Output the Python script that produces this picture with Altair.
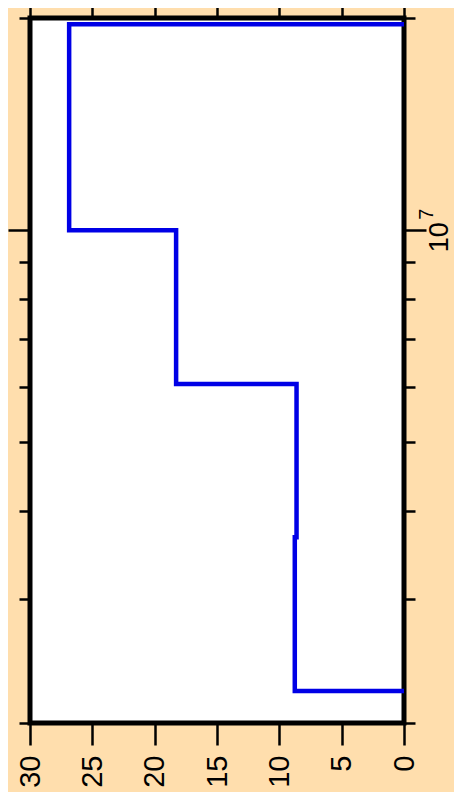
import altair as alt
import pandas as pd

# Data (rotated histogram outline)
edges = [2.22e6, 3.67e6, 6.05e6, 1.0e7, 1.96e7]     # bin boundaries (log axis)
counts = [8.76, 8.62, 18.28, 26.86]                # bin heights (linear axis, 0..30)
x_ticks = [0, 5, 10, 15, 20, 25, 30]
minor_ticks = [2e6, 3e6, 4e6, 5e6, 6e6, 7e6, 8e6, 9e6, 2e7]
major_ticks = [1e7]
major_label = ["10"]
major_exp = ["7"]

# build the step outline from the bins
rows = [dict(v=0.0, e=edges[0], o=0)]
for i, c in enumerate(counts):
    rows.append(dict(v=c, e=edges[i], o=len(rows)))
    rows.append(dict(v=c, e=edges[i + 1], o=len(rows)))
rows.append(dict(v=0.0, e=edges[-1], o=len(rows)))
df = pd.DataFrame(rows)
lab = pd.DataFrame({"e": major_ticks, "t": major_label, "s": major_exp})

FONT = "Liberation Sans"
xscale = alt.Scale(domain=[0, 30], reverse=True, nice=False, zero=False)
yscale = alt.Scale(type="log", domain=[2e6, 2e7], nice=False)

def xax(orient, size, labels):
    kw = dict(orient=orient, values=x_ticks, tickSize=size, tickWidth=2.5,
              tickColor="black", domain=False, grid=False, title=None,
              labels=labels)
    if labels:
        kw.update(labelAngle=270, labelFontSize=29, labelFont=FONT,
                  labelColor="black", labelAlign="right", labelBaseline="middle",
                  labelPadding=10)
    return alt.Axis(**kw)

def yax(orient, vals, size):
    return alt.Axis(orient=orient, values=vals, tickSize=size, tickWidth=2.5,
                    tickColor="black", domain=False, grid=False, title=None,
                    labels=False)

base = alt.Chart(df)

l1 = base.mark_line(color="#0000e6", strokeWidth=4.5).encode(
    x=alt.X("v:Q", scale=xscale, axis=xax("bottom", 22, True)),
    y=alt.Y("e:Q", scale=yscale, axis=yax("left", minor_ticks, 11)),
    order="o:Q",
)
l2 = base.mark_line(opacity=0).encode(
    x=alt.X("v:Q", scale=xscale, axis=xax("top", 18, False)),
    y=alt.Y("e:Q", scale=yscale, axis=yax("left", major_ticks, 22)),
    order="o:Q",
)
l3 = base.mark_line(opacity=0).encode(
    x=alt.X("v:Q", scale=xscale, axis=None),
    y=alt.Y("e:Q", scale=yscale, axis=yax("right", minor_ticks, 11)),
    order="o:Q",
)
l4 = base.mark_line(opacity=0).encode(
    x=alt.X("v:Q", scale=xscale, axis=None),
    y=alt.Y("e:Q", scale=yscale, axis=yax("right", major_ticks, 22)),
    order="o:Q",
)
t1 = alt.Chart(lab).mark_text(angle=270, align="center", baseline="alphabetic",
                              fontSize=27, font=FONT, color="black", dx=-7).encode(
    x=alt.value(418),
    y=alt.Y("e:Q", scale=yscale, axis=None),
    text="t:N",
)
t2 = alt.Chart(lab).mark_text(angle=270, align="center", baseline="alphabetic",
                              fontSize=20, font=FONT, color="black", dx=16).encode(
    x=alt.value(403),
    y=alt.Y("e:Q", scale=yscale, axis=None),
    text="s:N",
)

chart = alt.layer(l1, l2, l3, l4, t1, t2).resolve_axis(
    x="independent", y="independent"
).properties(
    width=374, height=705,
    background="#FFDEAD",
    padding={"left": 22, "top": 10, "right": 50, "bottom": 69},
    autosize=alt.AutoSizeParams(type="none"),
).configure_view(fill="white", stroke="black", strokeWidth=5)

chart.save("out.html", embed_options={"renderer": "svg", "actions": False})
